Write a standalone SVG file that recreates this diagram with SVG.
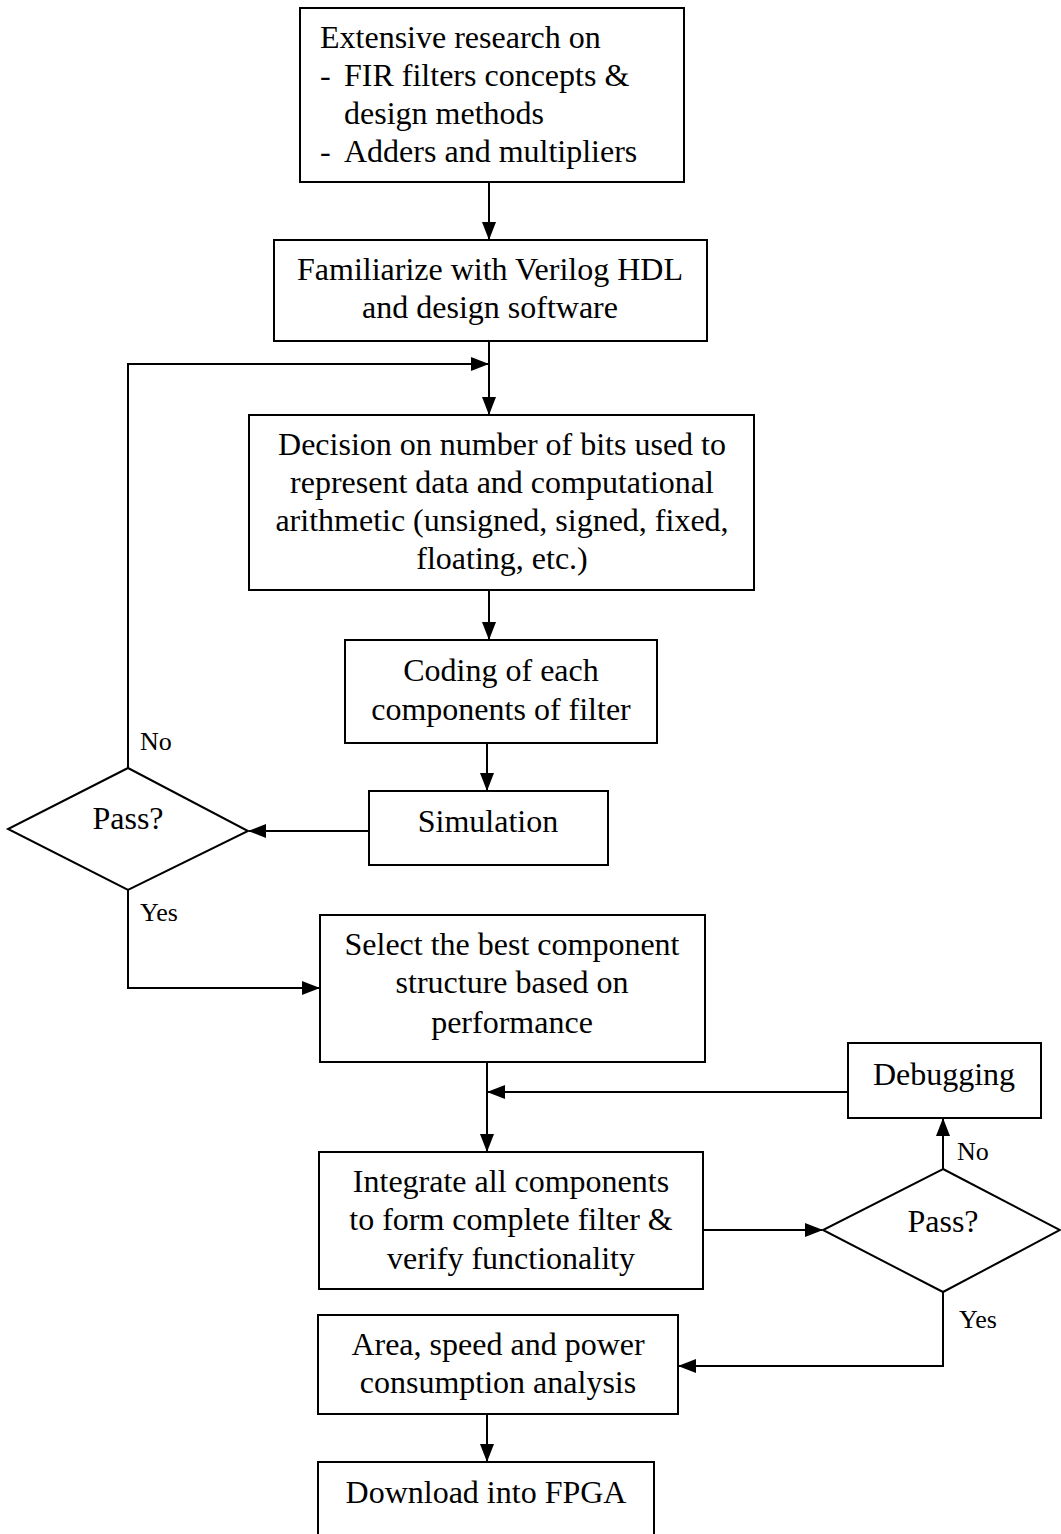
<svg xmlns="http://www.w3.org/2000/svg" width="1061" height="1534" viewBox="0 0 1061 1534">
<defs>
<marker id="ah" markerWidth="18" markerHeight="14" refX="17" refY="7" orient="auto" markerUnits="userSpaceOnUse">
<path d="M0,0 L18,7 L0,14 Z" fill="#000"/>
</marker>
</defs>
<style>
.b{fill:#fff;stroke:#000;stroke-width:2}
.t{font-family:"Liberation Serif","Times New Roman",serif;font-size:32px;fill:#000}
.c{text-anchor:middle}
.l{font-family:"Liberation Serif","Times New Roman",serif;font-size:26px;fill:#000}
.e{fill:none;stroke:#000;stroke-width:2}
</style>
<rect width="1061" height="1534" fill="#fff"/>
<g id="connectors">
<path class="e" d="M489,182 V239" marker-end="url(#ah)"/>
<path class="e" d="M489,341 V414" marker-end="url(#ah)"/>
<path class="e" d="M128,768 V364 H488" marker-end="url(#ah)"/>
<path class="e" d="M489,590 V639" marker-end="url(#ah)"/>
<path class="e" d="M487,743 V790" marker-end="url(#ah)"/>
<path class="e" d="M369,831 H249" marker-end="url(#ah)"/>
<path class="e" d="M128,890 V988 H319" marker-end="url(#ah)"/>
<path class="e" d="M487,1062 V1151" marker-end="url(#ah)"/>
<path class="e" d="M848,1092 H488" marker-end="url(#ah)"/>
<path class="e" d="M703,1230 H822" marker-end="url(#ah)"/>
<path class="e" d="M943,1169 V1119" marker-end="url(#ah)"/>
<path class="e" d="M943,1292 V1366 H679" marker-end="url(#ah)"/>
<path class="e" d="M487,1414 V1461" marker-end="url(#ah)"/>
<text class="l" x="140" y="750">No</text>
<text class="l" x="140" y="921">Yes</text>
<text class="l" x="957" y="1160">No</text>
<text class="l" x="959" y="1328">Yes</text>
</g>
<g id="research">
<rect class="b" x="300" y="8" width="384" height="174"/>
<text class="t" x="320" y="48">Extensive research on</text>
<text class="t" x="320" y="86">-</text>
<text class="t" x="344" y="86">FIR filters concepts &amp;</text>
<text class="t" x="344" y="124">design methods</text>
<text class="t" x="320" y="162">-</text>
<text class="t" x="344" y="162">Adders and multipliers</text>
</g>
<g id="familiarize">
<rect class="b" x="274" y="240" width="433" height="101"/>
<text class="t c" x="490" y="280">Familiarize with Verilog HDL</text>
<text class="t c" x="490" y="318">and design software</text>
</g>
<g id="decision">
<rect class="b" x="249" y="415" width="505" height="175"/>
<text class="t c" x="502" y="455">Decision on number of bits used to</text>
<text class="t c" x="502" y="493">represent data and computational</text>
<text class="t c" x="502" y="531">arithmetic (unsigned, signed, fixed,</text>
<text class="t c" x="502" y="569">floating, etc.)</text>
</g>
<g id="coding">
<rect class="b" x="345" y="640" width="312" height="103"/>
<text class="t c" x="501" y="681">Coding of each</text>
<text class="t c" x="501" y="720">components of filter</text>
</g>
<g id="simulation">
<rect class="b" x="369" y="791" width="239" height="74"/>
<text class="t c" x="488" y="832">Simulation</text>
</g>
<g id="pass1">
<polygon class="b" points="128,768 248,831 128,890 8,829"/>
<text class="t c" x="128" y="829">Pass?</text>
</g>
<g id="select">
<rect class="b" x="320" y="915" width="385" height="147"/>
<text class="t c" x="512" y="955">Select the best component</text>
<text class="t c" x="512" y="993">structure based on</text>
<text class="t c" x="512" y="1033">performance</text>
</g>
<g id="debugging">
<rect class="b" x="848" y="1043" width="193" height="75"/>
<text class="t c" x="944" y="1085">Debugging</text>
</g>
<g id="integrate">
<rect class="b" x="319" y="1152" width="384" height="137"/>
<text class="t c" x="511" y="1192">Integrate all components</text>
<text class="t c" x="511" y="1230">to form complete filter &amp;</text>
<text class="t c" x="511" y="1269">verify functionality</text>
</g>
<g id="pass2">
<polygon class="b" points="943,1169 1060,1230 943,1292 823,1230"/>
<text class="t c" x="943" y="1232">Pass?</text>
</g>
<g id="analysis">
<rect class="b" x="318" y="1315" width="360" height="99"/>
<text class="t c" x="498" y="1355">Area, speed and power</text>
<text class="t c" x="498" y="1393">consumption analysis</text>
</g>
<g id="download">
<rect class="b" x="318" y="1462" width="336" height="80"/>
<text class="t c" x="486" y="1503">Download into FPGA</text>
</g>
</svg>
